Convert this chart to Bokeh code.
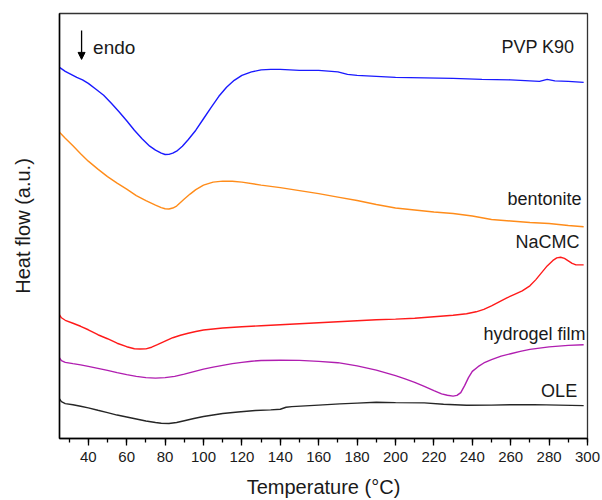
from bokeh.plotting import figure
from bokeh.models import (Range1d, SingleIntervalTicker, FixedTicker, Label, Arrow, NormalHead)
from bokeh.embed import file_html
from bokeh.resources import INLINE

# ---------------- data (heat flow in arbitrary units) ----------------
pvp_T = [25, 28, 31, 34, 37, 40, 44, 48, 52, 56, 60, 64, 68, 72, 75, 78, 80, 82, 84, 86, 89, 92,
         96, 100, 104, 108, 112, 116, 120, 125, 130, 135, 140, 150, 160, 170, 175, 180, 190, 200,
         215, 230, 245, 260, 270, 275, 279, 283, 290, 298]
pvp_hf = [372, 368, 365, 362, 359.5, 356, 350, 344, 336, 327.5, 318.5, 309, 300.5, 293, 289, 286,
          284.7, 284.8, 286, 288, 293, 299.5, 309, 320.5, 332, 343, 352, 359, 364, 367.5, 369.5,
          370, 370, 369, 369, 367.5, 365, 364, 363, 362, 361.5, 361, 360, 359.5, 358.5, 358, 360,
          358.5, 358, 357]

ben_T = [25, 28, 32, 36, 40, 45, 50, 55, 60, 65, 70, 75, 78, 80, 82, 84, 86, 88, 90, 93, 96, 100,
         105, 110, 115, 120, 130, 140, 150, 160, 170, 180, 190, 200, 210, 220, 230, 240, 250, 260,
         270, 280, 290, 298]
ben_hf = [307, 301, 293.5, 285.5, 278, 270, 262.5, 256, 250, 243.5, 238.5, 234, 231.5, 230.3, 230,
          231, 233, 236.5, 240, 245, 249.5, 254, 257, 258, 257.8, 257, 254, 251.5, 248.5, 245.5,
          242, 238.5, 234.5, 231, 229, 227, 225.5, 223, 219.5, 218, 216.5, 215.5, 213.5, 212.3]

cmc_T = [25, 26, 28, 32, 36, 40, 45, 50, 55, 60, 64, 67, 70, 73, 76, 80, 84, 88, 92, 96, 100, 105,
         110, 120, 130, 140, 150, 160, 170, 180, 190, 200, 210, 220, 230, 237, 242, 246, 250, 254,
         258, 262, 266, 270, 273, 276, 279, 282, 284, 286, 288, 290, 292, 294, 296, 298]
cmc_hf = [124, 121, 118.5, 115.5, 112.5, 109, 104, 100, 95.5, 92, 90, 89.7, 89.8, 91.5, 94, 97.5,
          101, 103.5, 105.5, 107.3, 108.7, 109.8, 110.7, 112, 113, 114, 115, 116, 117, 118, 119,
          119.7, 120.5, 122, 123.5, 125, 127, 129.5, 133, 137, 141, 144.5, 148, 153, 159, 166, 173,
          178.5, 181, 181.7, 180.5, 178, 175.5, 174, 174, 174]

gel_T = [25, 26, 28, 32, 36, 40, 45, 50, 55, 60, 65, 70, 75, 80, 85, 90, 95, 100, 105, 110, 115,
         120, 125, 130, 140, 150, 160, 170, 180, 190, 200, 205, 210, 215, 220, 224, 227, 230, 232,
         234, 236, 238, 240, 243, 246, 250, 255, 260, 265, 270, 280, 290, 298]
gel_hf = [80.7, 78, 76.3, 75, 73.8, 72.3, 70.3, 68.3, 66, 64, 62.3, 61, 60.5, 61, 62.3, 64.5, 67,
          69.5, 71.5, 73.3, 75, 76.3, 77.5, 78.2, 78.5, 78.3, 77.3, 76, 72.8, 68.5, 63, 59.8, 56.3,
          52.3, 48, 44.8, 43.3, 42.5, 43.2, 46, 53, 61, 67.3, 72, 75.7, 79, 82.5, 85, 87.3, 89.3,
          91.8, 93.3, 94]

ole_T = [25, 26, 28, 32, 36, 40, 45, 50, 55, 60, 65, 70, 75, 78, 82, 86, 90, 95, 100, 105, 110,
         118, 127, 135, 140, 143, 146, 160, 171, 180, 190, 200, 215, 225, 237, 250, 260, 272, 285, 298]
ole_hf = [39.7, 37, 35, 33.8, 32.3, 30.7, 28.3, 26, 23.5, 21.5, 19.5, 17.5, 16, 15.3, 15, 16, 17.8,
          20, 22, 23.5, 25, 26.5, 28, 28.7, 29.3, 31.3, 32, 33.5, 34.7, 35.5, 36.3, 36, 35.7, 34.3,
          33.3, 33.5, 33.8, 34, 33.5, 33]

series_names = ["PVP K90", "bentonite", "NaCMC", "hydrogel film", "OLE"]
series_T = [pvp_T, ben_T, cmc_T, gel_T, ole_T]
series_hf = [pvp_hf, ben_hf, cmc_hf, gel_hf, ole_hf]
series_colors = ["#1a1aff", "#ff8c1a", "#ff1a1a", "#b01eb0", "#262626"]

FONT = "Liberation Sans"

p = figure(width=602, height=500, output_backend="svg", toolbar_location=None,
           x_range=Range1d(25, 300), y_range=Range1d(0, 426),
           min_border_left=59, min_border_right=15, min_border_top=13, min_border_bottom=61)

for T, hf, c in zip(series_T, series_hf, series_colors):
    p.line(T, hf, line_color=c, line_width=1.4)

p.xgrid.visible = False
p.ygrid.visible = False
p.outline_line_color = "#333333"
p.outline_line_width = 1.3

xa = p.xaxis[0]
xa.ticker = SingleIntervalTicker(interval=20, num_minor_ticks=2)
xa.axis_line_color = "black"
xa.axis_line_width = 1.5
xa.major_tick_in = 0
xa.major_tick_out = 7
xa.minor_tick_in = 0
xa.minor_tick_out = 4
xa.major_tick_line_color = "black"
xa.minor_tick_line_color = "black"
xa.major_tick_line_width = 1.3
xa.minor_tick_line_width = 1.3
xa.major_label_text_font = FONT
xa.major_label_text_font_size = "15px"
xa.major_label_text_color = "#1a1a1a"
xa.major_label_standoff = 6
xa.axis_label = "Temperature (°C)"
xa.axis_label_text_font = FONT
xa.axis_label_text_font_size = "20px"
xa.axis_label_text_font_style = "normal"
xa.axis_label_text_color = "#1a1a1a"
xa.axis_label_standoff = 11

ya = p.yaxis[0]
ya.ticker = FixedTicker(ticks=[])
ya.axis_line_color = "black"
ya.axis_line_width = 1.5
ya.major_tick_line_color = None
ya.minor_tick_line_color = None
ya.axis_label = "Heat flow (a.u.)"
ya.axis_label_text_font = FONT
ya.axis_label_text_font_size = "20px"
ya.axis_label_text_font_style = "normal"
ya.axis_label_text_color = "#1a1a1a"
ya.axis_label_standoff = 26

# curve labels (right aligned)
label_pos = [(293.2, 392), (296.9, 240), (295.8, 197), (299.0, 105), (294.6, 48)]
for name, (lx, ly) in zip(series_names, label_pos):
    p.add_layout(Label(x=lx, y=ly, text=name, text_align="right", text_baseline="middle",
                       text_font=FONT, text_font_size="18px", text_color="#1a1a1a"))

p.add_layout(Label(x=42.5, y=392, text="endo", text_align="left", text_baseline="middle",
                   text_font=FONT, text_font_size="19px", text_color="#1a1a1a"))
p.add_layout(Arrow(x_start=36.5, y_start=409, x_end=36.5, y_end=380, line_width=1.3,
                   line_color="black",
                   end=NormalHead(size=7, fill_color="black", line_color="black")))

open("out.html", "w").write(file_html(p, INLINE))
